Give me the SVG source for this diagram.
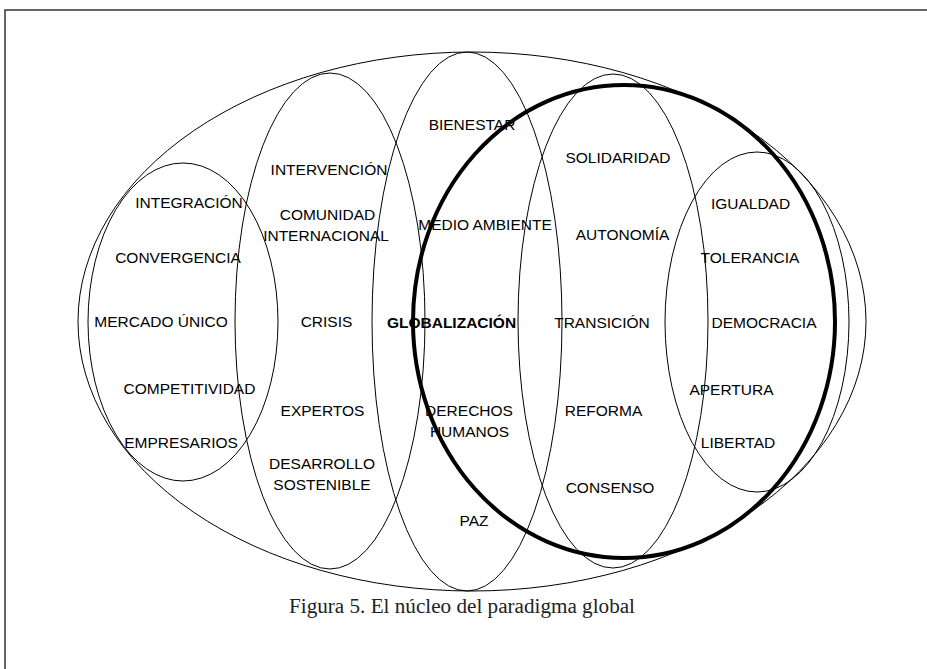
<svg xmlns="http://www.w3.org/2000/svg" width="927" height="669" viewBox="0 0 927 669">
  <style>
    .ring { fill: none; stroke: #000; stroke-width: 1; }
    .core { fill: none; stroke: #000; stroke-width: 4; }
    .lbl { font-family: "Liberation Sans", Arial, sans-serif; font-size: 15.5px; fill: #000; text-anchor: middle; }
    .bold { font-weight: bold; }
    .cap { font-family: "Liberation Serif", "Times New Roman", serif; font-size: 20px; fill: #222; }
  </style>
  <rect width="927" height="669" fill="#fff"/>
  <!-- page frame (only top and left edges fall inside the view) -->
  <rect x="5" y="10" width="1000" height="700" fill="none" stroke="#333" stroke-width="1.5"/>

  <g id="outer">
    <ellipse class="ring" cx="472" cy="321.5" rx="394" ry="269.5"/>
  </g>

  <g id="col1">
    <ellipse class="ring" cx="183" cy="322" rx="95" ry="159"/>
    <text class="lbl" x="189" y="208">INTEGRACIÓN</text>
    <text class="lbl" x="178" y="262.5">CONVERGENCIA</text>
    <text class="lbl" x="161" y="327">MERCADO ÚNICO</text>
    <text class="lbl" x="189.5" y="394">COMPETITIVIDAD</text>
    <text class="lbl" x="181" y="448">EMPRESARIOS</text>
  </g>

  <g id="col2">
    <ellipse class="ring" cx="330" cy="321" rx="95" ry="248"/>
    <text class="lbl" x="329" y="175">INTERVENCIÓN</text>
    <text class="lbl" x="327.5" y="220">COMUNIDAD</text>
    <text class="lbl" x="326" y="240.5">INTERNACIONAL</text>
    <text class="lbl" x="326.5" y="327">CRISIS</text>
    <text class="lbl" x="322.5" y="416">EXPERTOS</text>
    <text class="lbl" x="322" y="469">DESARROLLO</text>
    <text class="lbl" x="322" y="490">SOSTENIBLE</text>
  </g>

  <g id="col3">
    <ellipse class="ring" cx="467" cy="321.5" rx="95" ry="269.5"/>
    <text class="lbl" x="472" y="130">BIENESTAR</text>
    <text class="lbl" x="485" y="230">MEDIO AMBIENTE</text>
    <text class="lbl bold" x="451.5" y="327.5">GLOBALIZACIÓN</text>
    <text class="lbl" x="469" y="416">DERECHOS</text>
    <text class="lbl" x="469.5" y="437">HUMANOS</text>
    <text class="lbl" x="474" y="526">PAZ</text>
  </g>

  <g id="col4">
    <ellipse class="ring" cx="613" cy="321" rx="95" ry="247"/>
    <text class="lbl" x="618" y="162.5">SOLIDARIDAD</text>
    <text class="lbl" x="622.5" y="240">AUTONOMÍA</text>
    <text class="lbl" x="602" y="327.5">TRANSICIÓN</text>
    <text class="lbl" x="603.5" y="416">REFORMA</text>
    <text class="lbl" x="610" y="493">CONSENSO</text>
  </g>

  <g id="col5">
    <ellipse class="ring" cx="757" cy="322" rx="92" ry="170"/>
    <text class="lbl" x="750.5" y="209">IGUALDAD</text>
    <text class="lbl" x="750" y="263">TOLERANCIA</text>
    <text class="lbl" x="764" y="328">DEMOCRACIA</text>
    <text class="lbl" x="731.5" y="395">APERTURA</text>
    <text class="lbl" x="738" y="448">LIBERTAD</text>
  </g>

  <!-- bold core ring -->
  <g id="core">
    <ellipse class="core" cx="624" cy="321.5" rx="211" ry="236.5"/>
  </g>

  <text class="cap" x="289" y="613" textLength="346" lengthAdjust="spacingAndGlyphs">Figura 5. El núcleo del paradigma global</text>
</svg>
